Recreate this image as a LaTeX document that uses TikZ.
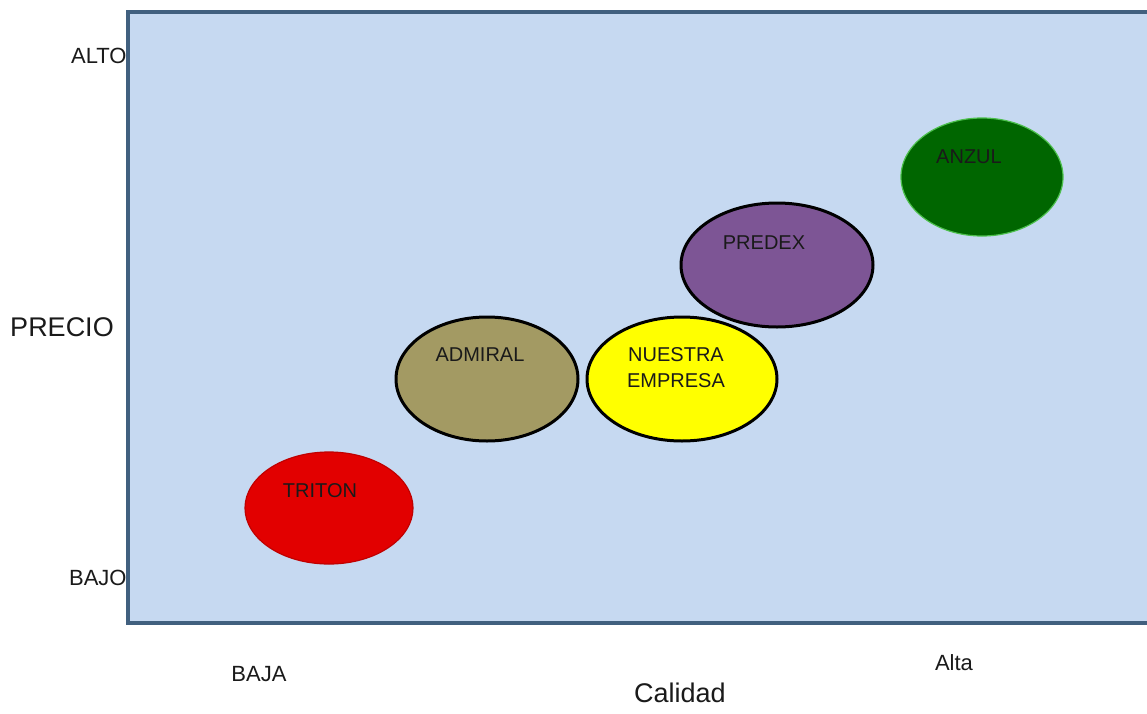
\documentclass[tikz,border=0pt]{standalone}
\usepackage{fontspec}
\setmainfont{Liberation Sans}
\usetikzlibrary{shapes.geometric,positioning,calc}

\definecolor{fondo}{HTML}{C6D9F1}
\definecolor{marco}{HTML}{41607F}
\definecolor{rojo}{HTML}{E20000}
\definecolor{oliva}{HTML}{A39A63}
\definecolor{amarillo}{HTML}{FFFF00}
\definecolor{morado}{HTML}{7D5595}
\definecolor{verde}{HTML}{006600}
\definecolor{texto}{HTML}{1A1A1A}

\tikzset{
  marca/.style={ellipse, inner sep=0pt, line width=1.5pt, draw=black},
  nombre/.style={text=texto, font=\fontsize{10}{13}\selectfont, align=center, inner sep=0pt},
  eje/.style={text=texto, font=\fontsize{11}{13}\selectfont, inner sep=0pt},
  titulo/.style={text=texto, font=\fontsize{13.5}{16}\selectfont, inner sep=0pt}
}

\begin{document}
\begin{tikzpicture}[x=0.5pt,y=-0.5pt]
      \clip (0,0) rectangle (1147,713);
      \fill[white] (0,0) rectangle (1147,713);

      % plano precio / calidad
      \draw[marco, line width=1.7pt, fill=fondo] (128,12) rectangle (1170,623);

      % competidores
      \node[marca, draw=rojo!85!black, line width=0.6pt, fill=rojo, minimum width=84pt, minimum height=56pt] (triton) at (329,508) {};
      \node[marca, fill=oliva, minimum width=91pt, minimum height=62pt] (admiral) at (487,379) {};
      \node[marca, fill=amarillo, minimum width=95pt, minimum height=62pt] (nuestra) at (682,379) {};
      \node[marca, fill=morado, minimum width=96pt, minimum height=62pt] (predex) at (777,265) {};
      \node[marca, draw=verde!60!green!70!white, line width=0.6pt, fill=verde, minimum width=81pt, minimum height=59pt] (anzul) at (982,177) {};

      \node[nombre] (ttriton) at ([shift={(-9,-17)}]triton.center) {TRITON};
      \node[nombre] (tadmiral) at ([shift={(-7,-24)}]admiral.center) {ADMIRAL};
      \node[nombre] (tnuestra) at ([shift={(-6,-11)}]nuestra.center) {NUESTRA\\EMPRESA};
      \node[nombre] (tpredex) at ([shift={(-13,-22)}]predex.center) {PREDEX};
      \node[nombre] (tanzul) at ([shift={(-13,-20)}]anzul.center) {ANZUL};

      % ejes
      \node[eje, anchor=east] (alto) at (127,56) {ALTO};
      \node[eje, anchor=east] (bajo) at (127,578) {BAJO};
      \node[titulo] (precio) at (62,327) {PRECIO};
      \node[eje] (baja) at (259,674) {BAJA};
      \node[eje] (alta) at (954,663) {Alta};
      \node[titulo] (calidad) at (680,693) {Calidad};
\end{tikzpicture}
\end{document}
